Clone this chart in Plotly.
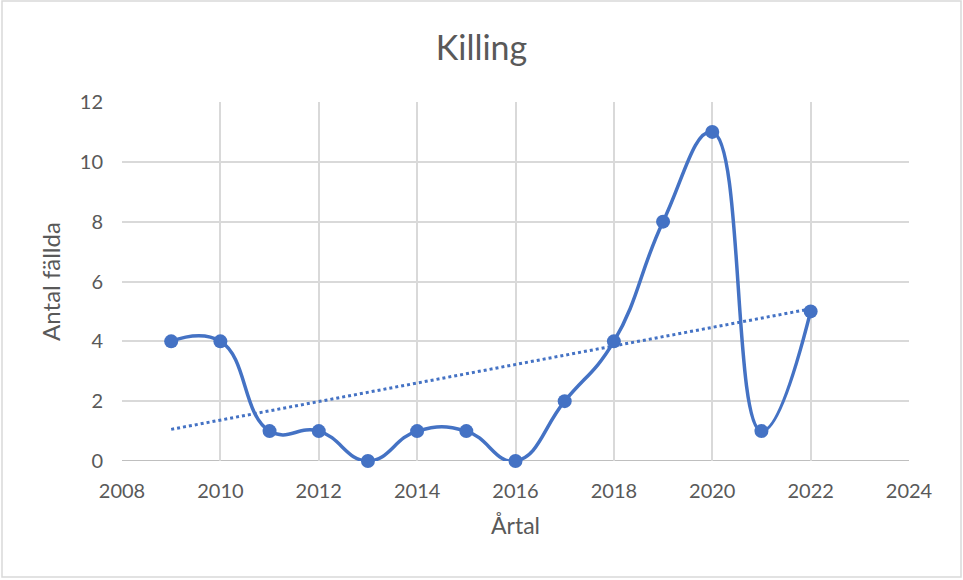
import numpy as np
import plotly.graph_objects as go

years = [2009, 2010, 2011, 2012, 2013, 2014, 2015, 2016, 2017, 2018, 2019, 2020, 2021, 2022]
counts = [4, 4, 1, 1, 0, 1, 1, 0, 2, 4, 8, 11, 1, 5]

title = "Killing"
x_title = "Årtal"
y_title = "Antal fällda"

blue = "#4472C4"
grey_text = "#595959"
grid = "#D9D9D9"

# linear trendline (least squares, as in Excel)
slope, intercept = np.polyfit(years, counts, 1)
trend_x = [years[0], years[-1]]
trend_y = [slope * x + intercept for x in trend_x]

fig = go.Figure()
fig.add_trace(go.Scatter(
    x=trend_x, y=trend_y, mode="lines",
    line=dict(color=blue, width=3, dash="dot"),
    showlegend=False,
))
fig.add_trace(go.Scatter(
    x=years, y=counts, mode="lines+markers",
    line=dict(color=blue, width=3.5, shape="spline", smoothing=1.3),
    marker=dict(color=blue, size=14),
    showlegend=False, cliponaxis=False,
))

font_family = "Lato, 'Open Sans', sans-serif"
W, H = 963, 580
L, R, T, B = 122, 54, 102, 119
pw, ph = W - L - R, H - T - B

fig.update_layout(
    width=W, height=H,
    margin=dict(l=L, r=R, t=T, b=B, autoexpand=False),
    paper_bgcolor="white", plot_bgcolor="white",
    font=dict(family=font_family, color=grey_text, size=20),
    title=dict(text=title, x=0.5, xanchor="center", y=1 - 48 / H, yanchor="middle",
               font=dict(size=34, color=grey_text, family=font_family)),
    xaxis=dict(
        range=[2008, 2024], tick0=2008, dtick=2,
        showgrid=True, gridcolor=grid, gridwidth=2,
        zeroline=False, showline=False, automargin=False,
        ticks="", tickfont=dict(size=20, color=grey_text), ticklabelstandoff=16,
        title=dict(text=x_title, font=dict(size=23, color=grey_text), standoff=16),
    ),
    yaxis=dict(
        range=[0, 12], tick0=0, dtick=2,
        showgrid=True, gridcolor=grid, gridwidth=2,
        zeroline=False, showline=False, automargin=False,
        ticks="", tickfont=dict(size=20, color=grey_text), ticklabelstandoff=18,
        title=dict(text=y_title, font=dict(size=24, color=grey_text), standoff=12),
    ),
    shapes=[
        dict(type="rect", xref="paper", yref="paper",
             x0=(2 - L) / pw, x1=(961 - L) / pw,
             y0=-(577 - (H - B)) / ph, y1=((H - B) - 1) / ph,
             line=dict(color="#D9D9D9", width=1.5), fillcolor="rgba(0,0,0,0)", layer="below"),
        dict(type="line", xref="paper", yref="y", x0=0, x1=1, y0=0, y1=0,
             line=dict(color="#BFBFBF", width=2), layer="below"),
    ],
)

fig.write_html("out.html", config={"displayModeBar": False})

# remove the default page margin so the figure sits at the window's top-left corner
with open("out.html", "r", encoding="utf-8") as f:
    html = f.read()
html = html.replace("<head>", "<head><style>html,body{margin:0;padding:0;overflow:hidden;}</style>", 1)
with open("out.html", "w", encoding="utf-8") as f:
    f.write(html)
